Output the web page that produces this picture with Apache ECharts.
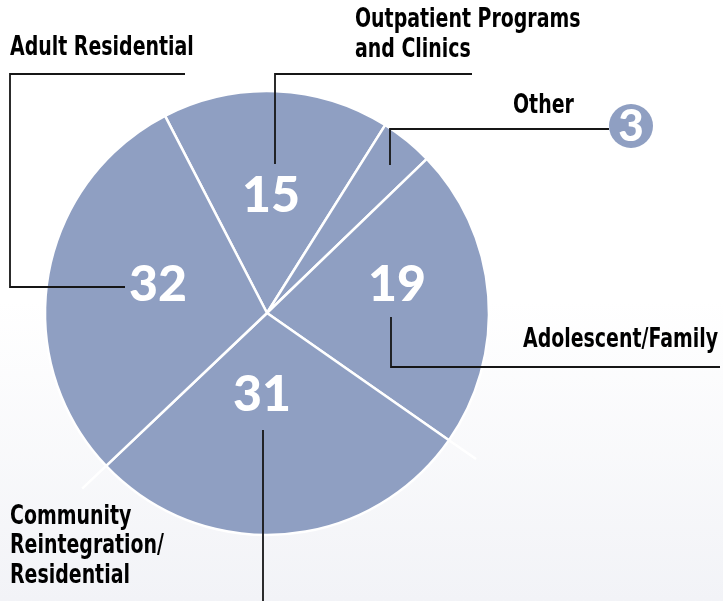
<!DOCTYPE html>
<html>
<head>
<meta charset="utf-8">
<title>Programs</title>
<script src="https://cdn.jsdelivr.net/npm/echarts@6.0.0/dist/echarts.min.js"></script>
<style>
  html, body { margin: 0; padding: 0; }
  #chart { width: 723px; height: 601px; }
</style>
</head>
<body>
<div id="chart"></div>
<script>
// slices in clockwise order, starting at the Adult/Outpatient split
const categories = [
  'Outpatient Programs\nand Clinics',
  'Other',
  'Adolescent/Family',
  'Community\nReintegration/\nResidential',
  'Adult Residential'
]
// printed numbers
const counts = [15, 3, 19, 31, 32]
// arc of each slice as drawn in the picture (degrees)
const sliceDegrees = [59.5, 13.9, 78.9, 101.5, 106.2]

const PIE_COLOR = '#8f9fc2'
const INK = '#161616'
const LABEL_FONT = "'Liberation Sans Narrow', 'DejaVu Sans Condensed', sans-serif"
const NUM_FONT = "Lato, 'Open Sans', sans-serif"
// no narrow bold face installed, so squeeze the condensed one
const LABEL_SQUEEZE = 0.78

const CENTER = [267, 313]
const RADIUS = 222
const START_ANGLE = 117.35

// where the white numbers sit inside each slice (null = shown in badge)
const numberPos = [[271, 196], null, [397, 285], [262, 395], [158, 285]]

// outer label placement + leader lines
const outerLabels = [
  { x: 355, y: 35, line: [[472, 74], [275, 74], [275, 164]] },
  { x: 513, y: 106, line: [[609, 129], [390, 129], [390, 165]] },
  { x: 523, y: 340, line: [[391, 317], [391, 367], [720, 367]] },
  { x: 10, y: 546, line: [[263, 430], [263, 601]] },
  { x: 10, y: 48, line: [[185, 74], [10, 74], [10, 287], [125, 287]] }
]

const chart = echarts.init(document.getElementById('chart'))

const graphics = []

// the white slice dividers run a little past the rim
let a = START_ANGLE
sliceDegrees.forEach(d => {
  const rad = a * Math.PI / 180
  graphics.push({
    type: 'line',
    z: 1,
    silent: true,
    shape: {
      x1: CENTER[0] + Math.cos(rad) * RADIUS,
      y1: CENTER[1] - Math.sin(rad) * RADIUS,
      x2: CENTER[0] + Math.cos(rad) * (RADIUS + 33),
      y2: CENTER[1] - Math.sin(rad) * (RADIUS + 33)
    },
    style: { stroke: '#ffffff', lineWidth: 2.5 }
  })
  a -= d
})

outerLabels.forEach((o, i) => {
  graphics.push({
    type: 'polyline',
    z: 100,
    silent: true,
    shape: { points: o.line },
    style: { stroke: INK, lineWidth: 1.8, fill: null }
  })
  graphics.push({
    type: 'text',
    z: 101,
    x: o.x,
    y: o.y,
    scaleX: LABEL_SQUEEZE,
    style: {
      text: categories[i],
      fill: '#000',
      font: 'bold 27px ' + LABEL_FONT,
      lineHeight: 29.5,
      align: 'left',
      verticalAlign: 'middle'
    }
  })
})
// badge for the small slice
graphics.push({
  type: 'circle',
  z: 102,
  shape: { cx: 631, cy: 126, r: 22 },
  style: { fill: PIE_COLOR }
})
graphics.push({
  type: 'text',
  z: 103,
  x: 631,
  y: 127,
  style: {
    text: String(counts[1]),
    fill: '#fff',
    font: '900 44px ' + NUM_FONT,
    align: 'center',
    verticalAlign: 'middle'
  }
})

const option = {
  backgroundColor: new echarts.graphic.LinearGradient(0, 0, 0, 1, [
    { offset: 0, color: '#ffffff' },
    { offset: 0.5, color: '#ffffff' },
    { offset: 1, color: '#f2f3f7' }
  ]),
  animation: false,
  series: [
    {
      type: 'pie',
      center: CENTER,
      radius: RADIUS,
      startAngle: START_ANGLE,
      clockwise: true,
      avoidLabelOverlap: false,
      itemStyle: {
        color: PIE_COLOR,
        borderColor: '#ffffff',
        borderWidth: 2.5
      },
      label: {
        show: true,
        position: 'inside',
        formatter: p => String(counts[p.dataIndex]),
        color: '#fff',
        fontFamily: NUM_FONT,
        fontWeight: 900,
        fontSize: 50
      },
      labelLine: { show: false },
      labelLayout: p => {
        const pos = numberPos[p.dataIndex]
        if (!pos) return {}
        return { x: pos[0], y: pos[1], align: 'center', verticalAlign: 'middle' }
      },
      emphasis: { disabled: true },
      data: sliceDegrees.map((d, i) => ({
        name: categories[i],
        value: d,
        label: { show: numberPos[i] !== null }
      }))
    }
  ],
  graphic: graphics
}

chart.setOption(option)
</script>
</body>
</html>
